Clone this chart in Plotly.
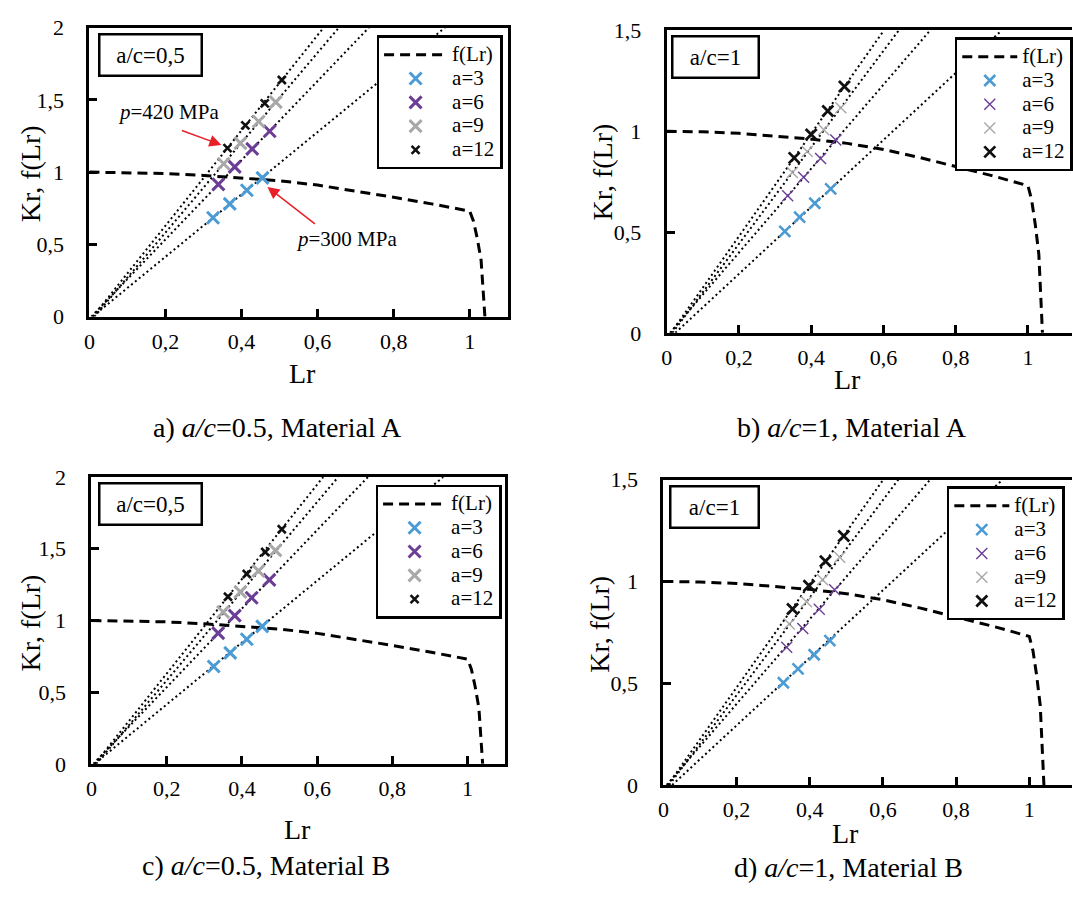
import plotly.graph_objects as go

W, H = 1073, 902
FONT = "Liberation Serif, Times New Roman, serif"

# ---------------- data ----------------
series_names = ["a=3", "a=6", "a=9", "a=12"]
curve_name = "f(Lr)"

# failure assessment curve f(Lr)
fad_lr = [0, 0.1, 0.2, 0.3, 0.4, 0.5, 0.6, 0.7, 0.8, 0.9, 1.0, 1.01, 1.02, 1.03, 1.04]
fad_f = [1.0, 0.997, 0.99, 0.977, 0.961, 0.94, 0.91, 0.87, 0.826, 0.78, 0.73, 0.66, 0.54, 0.39, 0.0]

# panel a) a/c=0.5, Material A  (rows: a=3, a=6, a=9, a=12)
pa_lr = [[0.325, 0.369, 0.414, 0.455], [0.339, 0.382, 0.428, 0.474],
         [0.353, 0.397, 0.445, 0.490], [0.363, 0.410, 0.461, 0.506]]
pa_kr = [[0.684, 0.780, 0.874, 0.960], [0.915, 1.036, 1.161, 1.283],
         [1.058, 1.200, 1.350, 1.484], [1.166, 1.323, 1.475, 1.637]]
pa_line_x0 = [0.008, 0.005, 0.013, 0.009]
pa_line_x1 = [0.935, 0.735, 0.656, 0.616]

# panel b) a/c=1, Material A
pb_lr = [[0.327, 0.368, 0.410, 0.454], [0.335, 0.379, 0.426, 0.468],
         [0.348, 0.389, 0.435, 0.482], [0.353, 0.400, 0.446, 0.492]]
pb_kr = [[0.503, 0.574, 0.643, 0.714], [0.680, 0.772, 0.865, 0.957],
         [0.796, 0.900, 1.008, 1.117], [0.868, 0.984, 1.101, 1.222]]
pb_line_x0 = [0.024, 0.009, 0.016, 0.012]
pb_line_x1 = [0.927, 0.729, 0.642, 0.601]

# panel c) a/c=0.5, Material B
pc_lr = [[0.325, 0.369, 0.413, 0.454], [0.337, 0.381, 0.426, 0.473],
         [0.350, 0.396, 0.444, 0.489], [0.363, 0.413, 0.462, 0.506]]
pc_kr = [[0.679, 0.774, 0.869, 0.959], [0.912, 1.034, 1.158, 1.283],
         [1.059, 1.199, 1.346, 1.489], [1.165, 1.324, 1.477, 1.636]]
pc_line_x0 = [0.008, 0.005, 0.013, 0.009]
pc_line_x1 = [0.935, 0.735, 0.656, 0.616]

# panel d) a/c=1, Material B
pd_lr = [[0.328, 0.368, 0.412, 0.455], [0.337, 0.381, 0.426, 0.468],
         [0.344, 0.391, 0.435, 0.482], [0.353, 0.398, 0.443, 0.493]]
pd_kr = [[0.502, 0.570, 0.640, 0.709], [0.677, 0.769, 0.863, 0.959],
         [0.791, 0.900, 1.008, 1.119], [0.865, 0.979, 1.099, 1.223]]
pd_line_x0 = [0.024, 0.009, 0.016, 0.012]
pd_line_x1 = [0.927, 0.729, 0.642, 0.601]

x_tickvals = [0, 0.2, 0.4, 0.6, 0.8, 1]
x_ticktext = ["0", "0,2", "0,4", "0,6", "0,8", "1"]
y2_tickvals = [0, 0.5, 1, 1.5, 2]
y2_ticktext = ["0", "0,5", "1", "1,5", "2"]
y15_tickvals = [0, 0.5, 1, 1.5]
y15_ticktext = ["0", "0,5", "1", "1,5"]

captions = ["a) <i>a/c</i>=0.5, Material A", "b) <i>a/c</i>=1, Material A",
            "c) <i>a/c</i>=0.5, Material B", "d) <i>a/c</i>=1, Material B"]
ac_labels = ["a/c=0,5", "a/c=1", "a/c=0,5", "a/c=1"]

# ---------------- styling ----------------
colors = ["#4b9bd5", "#6b3d96", "#a8a8a8", "#111111"]
style_half = [(12, 3.0), (12, 3.0), (12, 3.0), (8, 2.6)]
style_one = [(11, 2.6), (11, 1.4), (11, 1.4), (11, 2.8)]


def px(x):
    return x / W


def py(y):
    return 1 - y / H


def big(s):
    return '<span style="font-size:21px">' + s + '</span>'


panels = [
    dict(l=84, r=505, t=16, b=313.3, xmax=1.1, ymax=2.0, full=True),
    dict(l=665, r=1073, t=19, b=330, xmax=(1073 - 665) / 363.7, ymax=1.5, full=False),
    dict(l=86, r=502.5, t=478.3, b=773.3, xmax=1.1, ymax=2.0, full=True),
    dict(l=661.7, r=1073, t=481, b=795, xmax=(1073 - 661.7) / 368.3, ymax=1.5, full=False),
]
data_lr = [pa_lr, pb_lr, pc_lr, pd_lr]
data_kr = [pa_kr, pb_kr, pc_kr, pd_kr]
lines_x0 = [pa_line_x0, pb_line_x0, pc_line_x0, pd_line_x0]
lines_x1 = [pa_line_x1, pb_line_x1, pc_line_x1, pd_line_x1]
legend_ids = ["legend", "legend2", "legend3", "legend4"]
legend_pos = [(373, 24), (955, 26), (372, 486), (947, 488)]
legend_itemw = [63, 55, 63, 55]
ac_box = [(145.5, 44.5, 98), (714.5, 46, 82), (145.5, 506, 98), (712.8, 509, 84)]
ylab_pos = [(25, 166), (600, 165), (25, 628), (597, 630)]
xlab_pos = [(298, 372), (847, 378), (293, 841), (845, 845)]
cap_pos = [(273, 427), (852, 427), (262, 878), (848, 880)]

fig = go.Figure()
layout = dict(width=W, height=H, margin=dict(l=0, r=0, t=0, b=0),
              paper_bgcolor="white", plot_bgcolor="white",
              font=dict(family=FONT, size=22, color="black"),
              showlegend=True)
annotations = []

for i, p in enumerate(panels):
    sfx = "" if i == 0 else str(i + 1)
    xa, ya = "x" + sfx, "y" + sfx
    ymax = p["ymax"]
    for k in range(4):
        fig.add_trace(go.Scatter(
            x=[lines_x0[i][k], lines_x1[i][k]], y=[0, ymax], xaxis=xa, yaxis=ya,
            mode="lines", line=dict(color="black", width=2, dash="2px,3px"),
            showlegend=False, hoverinfo="skip", cliponaxis=True))
    fig.add_trace(go.Scatter(
        x=fad_lr, y=fad_f, xaxis=xa, yaxis=ya, mode="lines", name=big(curve_name),
        line=dict(color="black", width=3, dash="10px,6px"),
        legend=legend_ids[i]))
    st = style_half if p["full"] else style_one
    for k in range(4):
        size, lw = st[k]
        fig.add_trace(go.Scatter(
            x=data_lr[i][k], y=data_kr[i][k], xaxis=xa, yaxis=ya, mode="markers",
            name=big(series_names[k]), legend=legend_ids[i],
            marker=dict(symbol="x-thin", size=size, color=colors[k],
                        line=dict(color=colors[k], width=lw))))

    xd = [px(p["l"]), px(p["r"])]
    yd = [py(p["b"]), py(p["t"])]
    layout["xaxis" + sfx] = dict(
        domain=xd, range=[0, p["xmax"]], anchor=ya, showgrid=False, zeroline=False,
        showline=True, linecolor="black", linewidth=3, mirror=True,
        ticks="inside", ticklen=8, tickwidth=2.5, tickcolor="black",
        tickvals=x_tickvals, ticktext=x_ticktext, ticklabelstandoff=3,
        tickfont=dict(family=FONT, size=22, color="black"))
    layout["yaxis" + sfx] = dict(
        domain=yd, range=[0, ymax], anchor=xa, showgrid=False, zeroline=False,
        showline=True, linecolor="black", linewidth=3, mirror=p["full"],
        ticks="inside", ticklen=8, tickwidth=2.5, tickcolor="black",
        tickvals=y2_tickvals if ymax == 2.0 else y15_tickvals,
        ticktext=y2_ticktext if ymax == 2.0 else y15_ticktext,
        ticklabelstandoff=18,
        tickfont=dict(family=FONT, size=22, color="black"))

    lx, ly = legend_pos[i]
    layout[legend_ids[i]] = dict(
        x=px(lx), y=py(ly), xanchor="left", yanchor="top",
        bgcolor="white", bordercolor="black", borderwidth=2.5,
        font=dict(family=FONT, size=16, color="black"),
        itemwidth=legend_itemw[i], tracegroupgap=0, traceorder="normal")

    bx, by, bw = ac_box[i]
    annotations.append(dict(
        xref="paper", yref="paper", x=px(bx), y=py(by), text=ac_labels[i],
        showarrow=False, xanchor="center", yanchor="middle",
        width=bw, height=37, bordercolor="black", borderwidth=2.5, borderpad=1,
        bgcolor="white", font=dict(family=FONT, size=23, color="black")))
    yx, yy = ylab_pos[i]
    annotations.append(dict(
        xref="paper", yref="paper", x=px(yx), y=py(yy), text="Kr, f(Lr)",
        textangle=-90, showarrow=False, xanchor="center", yanchor="middle",
        font=dict(family=FONT, size=28, color="black")))
    xx, xy = xlab_pos[i]
    annotations.append(dict(
        xref="paper", yref="paper", x=px(xx), y=py(xy), text="Lr",
        showarrow=False, xanchor="center", yanchor="middle",
        font=dict(family=FONT, size=28, color="black")))
    cx, cy = cap_pos[i]
    annotations.append(dict(
        xref="paper", yref="paper", x=px(cx), y=py(cy), text=captions[i],
        showarrow=False, xanchor="center", yanchor="middle",
        font=dict(family=FONT, size=28, color="black")))

red = "#e8202a"
annotations += [
    dict(xref="x", yref="y", x=0.347, y=1.188, ax=-41, ay=-15, text="",
         showarrow=True, arrowhead=2, arrowsize=1.6, arrowwidth=1.5, arrowcolor=red),
    dict(xref="x", yref="y", x=0.468, y=0.897, ax=49, ay=38, text="",
         showarrow=True, arrowhead=2, arrowsize=1.6, arrowwidth=1.5, arrowcolor=red),
    dict(xref="x", yref="y", x=0.207, y=1.415, text="<i>p</i>=420 MPa",
         showarrow=False, font=dict(family=FONT, size=21, color="black")),
    dict(xref="x", yref="y", x=0.675, y=0.54, text="<i>p</i>=300 MPa",
         showarrow=False, font=dict(family=FONT, size=21, color="black")),
]
layout["annotations"] = annotations
fig.update_layout(**layout)
fig.write_html("out.html")
